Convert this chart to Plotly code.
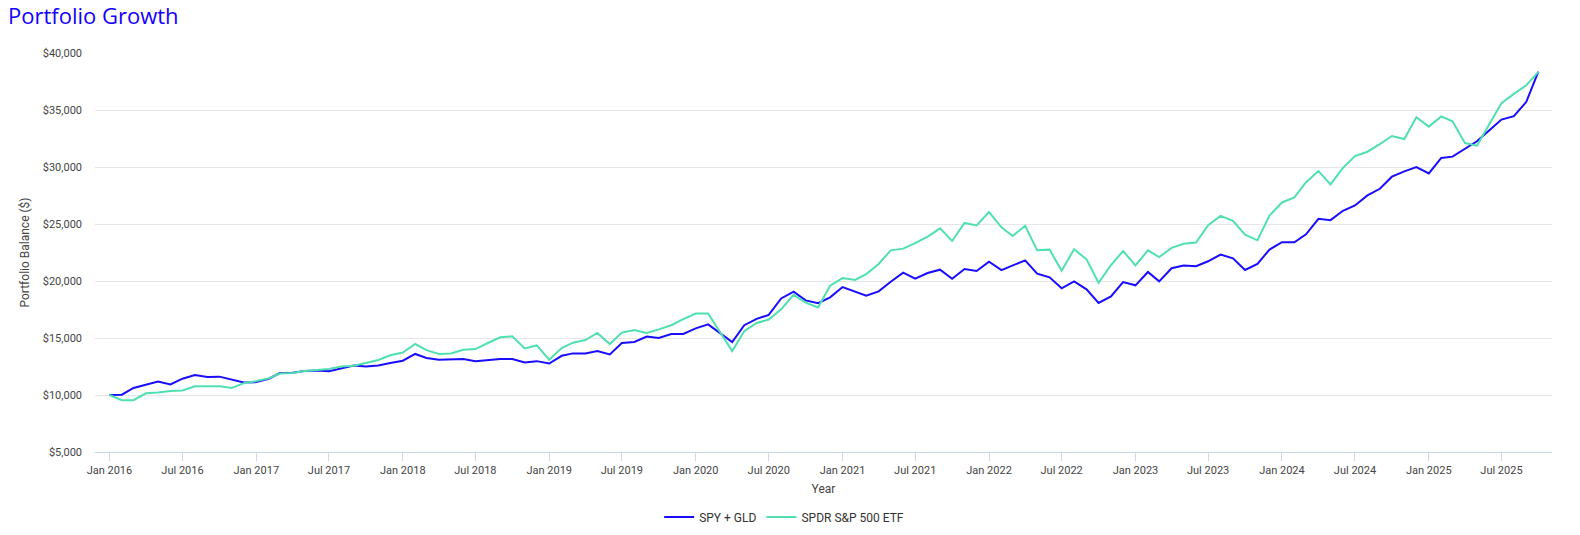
import plotly.graph_objects as go
import pandas as pd

# Monthly balances, Jan 2016 - Oct 2025
dates = pd.date_range("2016-01-01", periods=118, freq="MS")

spy_gld = [
    10000, 10030, 10620, 10890, 11190, 10920, 11430, 11760, 11580, 11610, 11340, 11100,
    11130, 11430, 11930, 11960, 12110, 12140, 12080, 12350, 12590, 12500, 12590, 12800,
    13010, 13600, 13240, 13090, 13090, 13150, 12970, 13060, 13150, 13150, 12850, 12970,
    12760, 13440, 13650, 13650, 13850, 13560, 14560, 14650, 15120, 15000, 15350, 15350,
    15850, 16200, 15440, 14650, 16120, 16680, 17030, 18470, 19060, 18300, 18050, 18570,
    19470, 19060, 18710, 19090, 19940, 20730, 20200, 20700, 20990, 20200, 21050, 20880,
    21700, 20960, 21350, 21810, 20640, 20320, 19360, 19970, 19270, 18070, 18650, 19910,
    19620, 20790, 19970, 21120, 21360, 21300, 21730, 22320, 21990, 20970, 21500, 22760,
    23400, 23400, 24100, 25450, 25340, 26160, 26630, 27510, 28090, 29150, 29620, 30000,
    29440, 30790, 30910, 31610, 32260, 33230, 34160, 34460, 35720, 38360,
]

spy = [
    10000, 9550, 9550, 10150, 10210, 10360, 10390, 10770, 10770, 10770, 10620, 11040,
    11220, 11460, 11880, 11930, 12110, 12200, 12290, 12500, 12560, 12800, 13070, 13480,
    13720, 14470, 13940, 13590, 13650, 13970, 14030, 14560, 15060, 15150, 14090, 14350,
    13090, 14120, 14590, 14820, 15440, 14470, 15470, 15710, 15440, 15760, 16120, 16650,
    17150, 17150, 15590, 13850, 15590, 16320, 16620, 17530, 18790, 18100, 17680, 19590,
    20260, 20090, 20610, 21490, 22690, 22840, 23330, 23890, 24620, 23510, 25090, 24880,
    26050, 24710, 23950, 24850, 22690, 22750, 20910, 22780, 21900, 19850, 21400, 22630,
    21370, 22690, 22100, 22910, 23270, 23380, 24890, 25710, 25270, 24070, 23570, 25740,
    26890, 27330, 28670, 29640, 28470, 29930, 30960, 31340, 32010, 32720, 32450, 34360,
    33540, 34440, 34010, 32100, 31870, 33710, 35590, 36410, 37170, 38340,
]

series_names = ["SPY + GLD", "SPDR S&P 500 ETF"]
colors = ["#1a0dff", "#50e0b0"]

W, H = 1580, 535

fig = go.Figure()
for name, vals, col in zip(series_names, [spy_gld, spy], colors):
    fig.add_trace(go.Scatter(
        x=dates, y=vals, mode="lines", name=name,
        line=dict(color=col, width=2),
    ))

fig.update_layout(
    width=W, height=H,
    autosize=False,
    margin=dict(l=95, r=28, t=53, b=83, autoexpand=False),
    paper_bgcolor="white", plot_bgcolor="white",
    font=dict(family="Roboto", size=11, color="#444"),
    title=dict(
        text="Portfolio Growth",
        font=dict(family="Open Sans", size=22, color="#1400ff"),
        x=8 / W, xanchor="left", xref="container",
        y=1 - 16 / H, yanchor="middle", yref="container",
    ),
    legend=dict(
        orientation="h",
        x=0.473, xanchor="center", y=-0.163, yanchor="middle",
        font=dict(size=12, color="#333"),
    ),
    showlegend=True,
)

fig.update_xaxes(
    range=["2015-11-26", "2025-11-04"], automargin=False,
    dtick="M6", tick0="2016-01-01", tickformat="%b %Y",
    showgrid=False, showline=True, linecolor="#ccd6eb", linewidth=1,
    ticks="outside", ticklen=8, tickcolor="#ccd6eb",
    ticklabelstandoff=0,
    title=dict(text="Year", font=dict(size=12, color="#444"), standoff=8),
)
fig.update_yaxes(
    range=[5000, 40000], dtick=5000, tickprefix="$", tickformat=",",
    automargin=False,
    showgrid=True, gridcolor="#e6e6e6", zeroline=False,
    ticklabelstandoff=12,
    title=dict(text="Portfolio Balance ($)", font=dict(size=12, color="#444"), standoff=10),
)

# drop the default 8px body margin so the figure sits at the window's corner
fig.write_html(
    "out.html",
    config={"displayModeBar": False},
    post_script="document.body.style.margin='0';",
)
